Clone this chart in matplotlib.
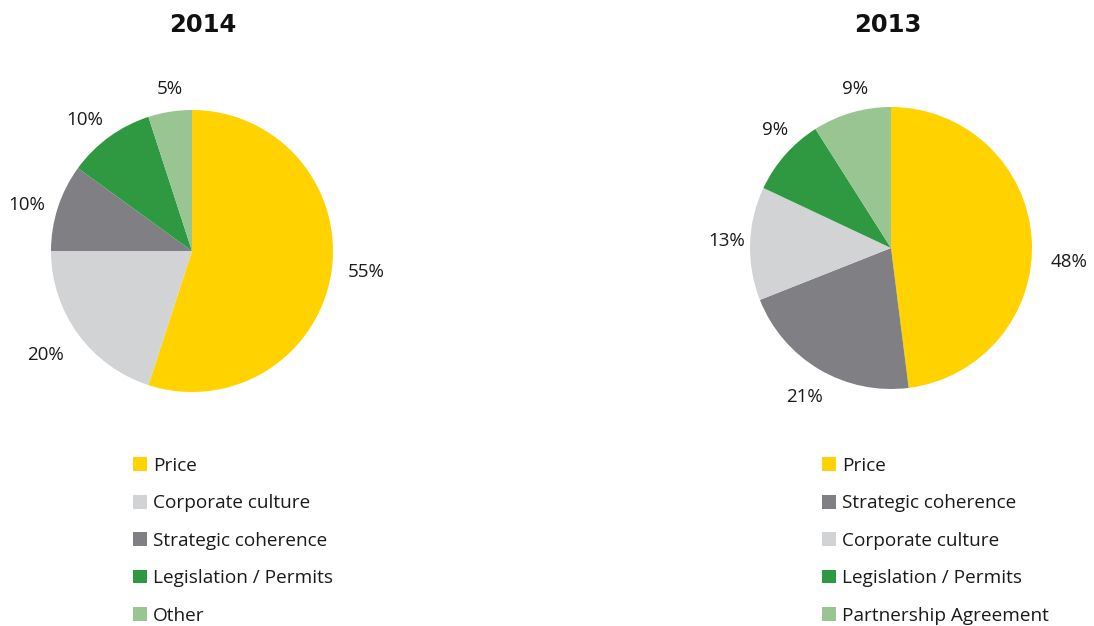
import numpy as np
import matplotlib
matplotlib.use("Agg")
import matplotlib.pyplot as plt

W, H = 1094, 626
DPI = 100

YELLOW = "#FFD200"
LIGHT_GREY = "#D2D3D5"
DARK_GREY = "#808084"
GREEN = "#2E9940"
LIGHT_GREEN = "#98C592"

labels_2014 = ["Price", "Corporate culture", "Strategic coherence",
               "Legislation / Permits", "Other"]
values_2014 = [55, 20, 10, 10, 5]
colors_2014 = [YELLOW, LIGHT_GREY, DARK_GREY, GREEN, LIGHT_GREEN]

labels_2013 = ["Price", "Strategic coherence", "Corporate culture",
               "Legislation / Permits", "Partnership Agreement"]
values_2013 = [48, 21, 13, 9, 9]
colors_2013 = [YELLOW, DARK_GREY, LIGHT_GREY, GREEN, LIGHT_GREEN]

plt.rcParams["font.family"] = ["Open Sans", "DejaVu Sans"]

fig = plt.figure(figsize=(W / DPI, H / DPI), dpi=DPI)

R_PX = 141.0
LIM = 1.3
SIDE = 2 * LIM * R_PX


def draw(cx, cy_top, title, title_x, labels, values, colors, legend_x, label_nudge):
    cy = H - cy_top
    ax = fig.add_axes([(cx - SIDE / 2) / W, (cy - SIDE / 2) / H, SIDE / W, SIDE / H])
    wedges, texts = ax.pie(values, colors=colors, startangle=90, counterclock=False,
                           labels=[f"{v}%" for v in values], labeldistance=1.21,
                           radius=1.0, wedgeprops=dict(linewidth=0),
                           textprops=dict(fontsize=13.5, color="#1a1a1a"))
    # place each percentage label around its wedge's mid-angle
    for w, t, (d_ang, dist) in zip(wedges, texts, label_nudge):
        a = np.deg2rad((w.theta1 + w.theta2) / 2 + d_ang)
        t.set_position((dist * np.cos(a), dist * np.sin(a)))
        t.set_horizontalalignment("center")
        t.set_verticalalignment("center")
    ax.set_xlim(-LIM, LIM)
    ax.set_ylim(-LIM, LIM)
    ax.set_aspect("equal")
    ax.axis("off")
    fig.text(title_x / W, 1 - 25 / H, title, ha="center", va="center",
             fontsize=17.5, fontweight="bold", family="DejaVu Sans", color="#111111")
    fig.legend(wedges, labels, loc="upper left",
               bbox_to_anchor=(legend_x / W, 1 - 457 / H),
               frameon=False, fontsize=13.7, handlelength=0.74, handleheight=0.74,
               handletextpad=0.3, labelspacing=1.02, borderpad=0, borderaxespad=0,
               labelcolor="#1a1a1a")


draw(192, 251, "2014", 203, labels_2014, values_2014, colors_2014, 133,
     label_nudge=[(2.1, 1.243), (-0.7, 1.277), (2.4, 1.215), (3.4, 1.20), (-1.1, 1.163)])
draw(891, 248, "2013", 888, labels_2013, values_2013, colors_2013, 822,
     label_nudge=[(-8.1, 1.266), (0.6, 1.22), (-0.8, 1.17), (-4.0, 1.176), (-3.4, 1.156)])

fig.savefig("out.png", dpi=DPI, facecolor="white")
